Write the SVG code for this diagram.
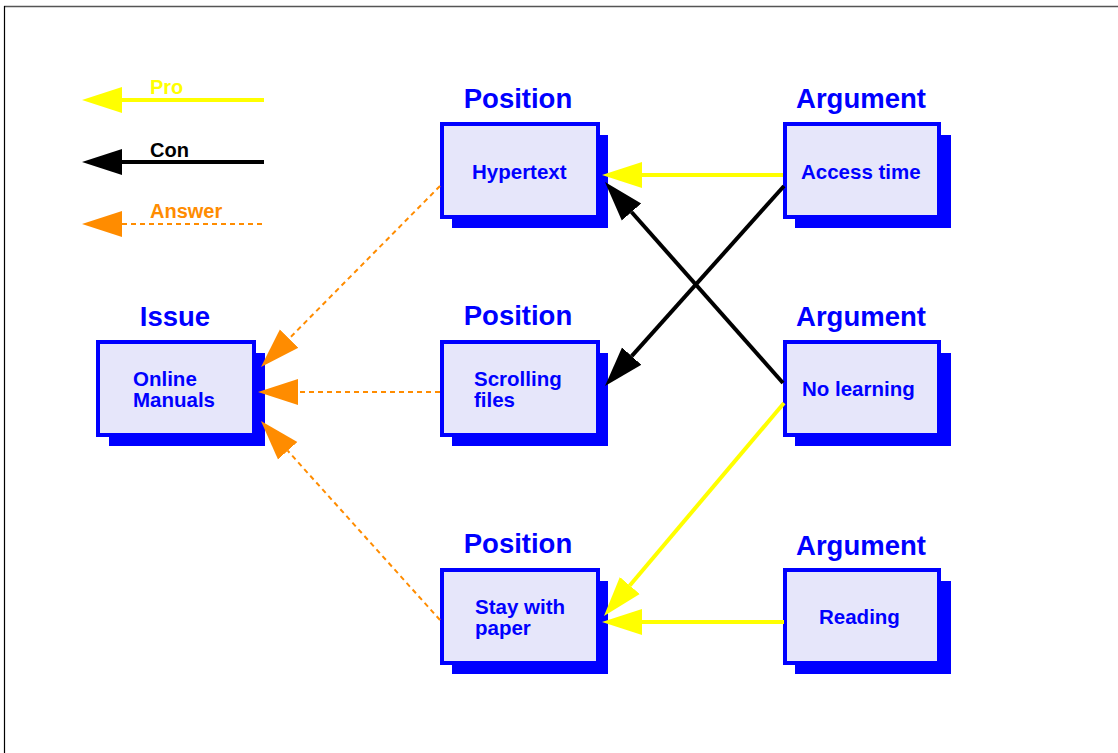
<svg xmlns="http://www.w3.org/2000/svg" width="1118" height="753" viewBox="0 0 1118 753">
  <style>
    .shadow { fill: #0000ff; stroke: none; }
    .box { fill: #e6e6fa; stroke: #0000ff; stroke-width: 4; }
    .title { font-family: "Liberation Sans", Arial, sans-serif; font-weight: bold; font-size: 27.5px; fill: #0000ff; text-anchor: middle; }
    .label { font-family: "Liberation Sans", Arial, sans-serif; font-weight: bold; font-size: 20.5px; fill: #0000ff; }
    .legend { font-family: "Liberation Sans", Arial, sans-serif; font-weight: bold; font-size: 20px; }
    .pro { stroke: #ffff00; stroke-width: 4; fill: none; }
    .con { stroke: #000000; stroke-width: 4; fill: none; }
    .ans { stroke: #ff8c00; stroke-width: 2; stroke-dasharray: 5 4; fill: none; }
  </style>
  <defs>
    <marker id="mPro" markerUnits="userSpaceOnUse" viewBox="0 -14 41 28" refX="0" refY="0" markerWidth="41" markerHeight="28" orient="auto">
      <path d="M40,0 L0,-13 L0,13 Z" fill="#ffff00"/>
    </marker>
    <marker id="mCon" markerUnits="userSpaceOnUse" viewBox="0 -14 41 28" refX="0" refY="0" markerWidth="41" markerHeight="28" orient="auto">
      <path d="M40,0 L0,-13 L0,13 Z" fill="#000000"/>
    </marker>
    <marker id="mAns" markerUnits="userSpaceOnUse" viewBox="0 -14 41 28" refX="0" refY="0" markerWidth="41" markerHeight="28" orient="auto">
      <path d="M40,0 L0,-13 L0,13 Z" fill="#ff8c00"/>
    </marker>
  </defs>

  <rect x="0" y="0" width="1118" height="753" fill="#ffffff"/>
  <g id="frame">
    <line x1="4" y1="6.5" x2="1118" y2="6.5" stroke="#555555" stroke-width="1.5"/>
    <line x1="4.5" y1="6" x2="4.5" y2="753" stroke="#000000" stroke-width="1.2"/>
  </g>

  <g id="legend">
    <line class="pro" x1="264" y1="100" x2="122" y2="100" marker-end="url(#mPro)"/>
    <text class="legend" x="150" y="94" fill="#ffff00">Pro</text>
    <line class="con" x1="264" y1="162" x2="122" y2="162" marker-end="url(#mCon)"/>
    <text class="legend" x="150" y="157" fill="#000000">Con</text>
    <line class="ans" x1="262" y1="224" x2="122" y2="224" marker-end="url(#mAns)"/>
    <text class="legend" x="150" y="218" fill="#ff8c00">Answer</text>
  </g>

  <g id="issue-online-manuals">
    <text class="title" x="175" y="326">Issue</text>
    <rect class="shadow" x="109" y="353" width="156" height="93"/>
    <rect class="box" x="98" y="342" width="156" height="93"/>
    <text class="label" x="133" y="386">Online</text>
    <text class="label" x="133" y="407">Manuals</text>
  </g>

  <g id="position-hypertext">
    <text class="title" x="518" y="108">Position</text>
    <rect class="shadow" x="452" y="135" width="156" height="93"/>
    <rect class="box" x="442" y="124" width="156" height="93"/>
    <text class="label" x="472" y="179">Hypertext</text>
  </g>

  <g id="position-scrolling">
    <text class="title" x="518" y="325">Position</text>
    <rect class="shadow" x="452" y="353" width="156" height="93"/>
    <rect class="box" x="442" y="342" width="156" height="93"/>
    <text class="label" x="474" y="386">Scrolling</text>
    <text class="label" x="474" y="407">files</text>
  </g>

  <g id="position-stay">
    <text class="title" x="518" y="553">Position</text>
    <rect class="shadow" x="452" y="581" width="156" height="93"/>
    <rect class="box" x="442" y="570" width="156" height="93"/>
    <text class="label" x="475" y="614">Stay with</text>
    <text class="label" x="475" y="635">paper</text>
  </g>

  <g id="argument-access-time">
    <text class="title" x="861" y="108">Argument</text>
    <rect class="shadow" x="795" y="135" width="156" height="93"/>
    <rect class="box" x="785" y="124" width="154" height="93"/>
    <text class="label" x="801" y="179">Access time</text>
  </g>

  <g id="argument-no-learning">
    <text class="title" x="861" y="326">Argument</text>
    <rect class="shadow" x="795" y="353" width="156" height="93"/>
    <rect class="box" x="785" y="342" width="154" height="93"/>
    <text class="label" x="802" y="396">No learning</text>
  </g>

  <g id="argument-reading">
    <text class="title" x="861" y="555">Argument</text>
    <rect class="shadow" x="795" y="581" width="156" height="93"/>
    <rect class="box" x="785" y="570" width="154" height="93"/>
    <text class="label" x="819" y="624">Reading</text>
  </g>

  <g id="connectors">
    <line class="pro" x1="783" y1="175" x2="642" y2="175" marker-end="url(#mPro)"/>
    <line class="pro" x1="784" y1="403" x2="629.8" y2="585.5" marker-end="url(#mPro)"/>
    <line class="pro" x1="784" y1="622" x2="642" y2="622" marker-end="url(#mPro)"/>
    <line class="con" x1="784" y1="186" x2="631.7" y2="356.2" marker-end="url(#mCon)"/>
    <line class="con" x1="783" y1="383" x2="631.5" y2="212" marker-end="url(#mCon)"/>
    <line class="ans" x1="440" y1="186" x2="289.1" y2="338.6" marker-end="url(#mAns)"/>
    <line class="ans" x1="440" y1="392" x2="298" y2="392" marker-end="url(#mAns)"/>
    <line class="ans" x1="440" y1="620" x2="287.7" y2="450.7" marker-end="url(#mAns)"/>
  </g>
</svg>
